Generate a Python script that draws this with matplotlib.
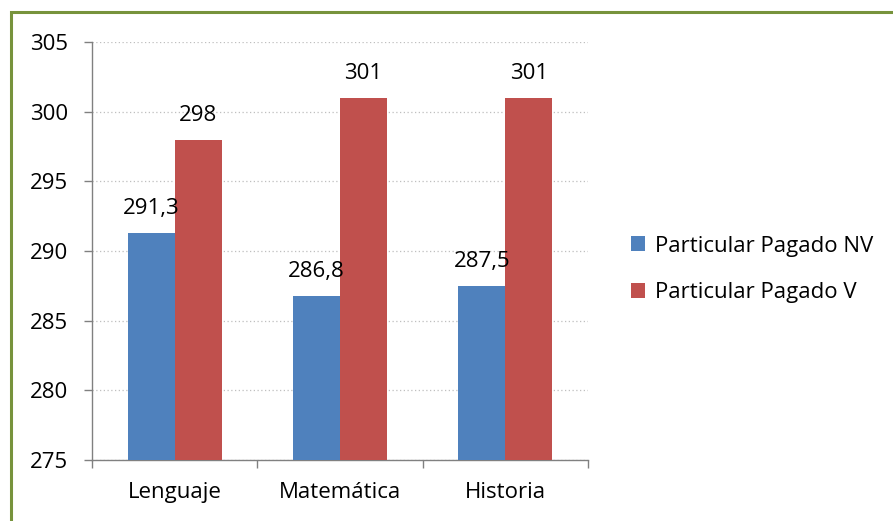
import matplotlib
matplotlib.use("Agg")
import matplotlib.pyplot as plt
import numpy as np
from matplotlib.patches import Rectangle

# data
categories = ["Lenguaje", "Matemática", "Historia"]
series_names = ["Particular Pagado NV", "Particular Pagado V"]
nv_values = [291.3, 286.8, 287.5]
v_values = [298, 301, 301]
y_ticks = [275, 280, 285, 290, 295, 300, 305]

plt.rcParams["font.family"] = ["Open Sans", "DejaVu Sans"]
FS = 16

fig = plt.figure(figsize=(8.93, 5.21), dpi=100)
ax = fig.add_axes([0.103, 0.117, 0.5555, 0.802])

x = np.arange(len(categories))
w = 0.285
colors = ["#4F81BD", "#C0504D"]
for vals, off, col, name in [(nv_values, -w / 2, colors[0], series_names[0]),
                             (v_values, w / 2, colors[1], series_names[1])]:
    bars = ax.bar(x + off, np.array(vals) - 275, width=w, bottom=275,
                  color=col, label=name, zorder=3)
    for b, v in zip(bars, vals):
        txt = f"{v:g}".replace(".", ",")
        ax.annotate(txt, (b.get_x() + b.get_width() / 2, v),
                    xytext=(0, 13.5), textcoords="offset points",
                    ha="center", va="baseline", fontsize=FS, zorder=5)

ax.set_xlim(-0.5, len(categories) - 0.5)
ax.set_ylim(275, 305)
ax.set_yticks(y_ticks)
ax.set_yticklabels([str(t) for t in y_ticks], fontsize=FS)
ax.yaxis.grid(True, linestyle=(0, (1, 2)), color="#BFBFBF", linewidth=0.9, zorder=0)

ax.set_xticks(x)
ax.set_xticklabels(categories, fontsize=FS)
ax.tick_params(axis="x", length=0, pad=16)
ax.set_xticks(np.arange(len(categories) + 1) - 0.5, minor=True)
ax.tick_params(axis="x", which="minor", length=6, color="#808080", width=1)
ax.tick_params(axis="y", length=6, color="#808080", width=1, pad=11)

for s in ["top", "right"]:
    ax.spines[s].set_visible(False)
for s in ["left", "bottom"]:
    ax.spines[s].set_color("#808080")
    ax.spines[s].set_linewidth(1)

leg = fig.legend(loc="center left", bbox_to_anchor=(0.684, 0.483), frameon=False,
                 fontsize=FS, handlelength=0.65, handleheight=0.65,
                 handletextpad=0.45, labelspacing=1.15)

# green chart-area border (left and top edges visible in the reference)
fig.add_artist(Rectangle((10.5 / 893, -0.05), 1.2, 1.05 - 12.5 / 521,
                         transform=fig.transFigure, fill=False,
                         edgecolor="#77933C", linewidth=2.2))

fig.savefig("out.png", dpi=100)
